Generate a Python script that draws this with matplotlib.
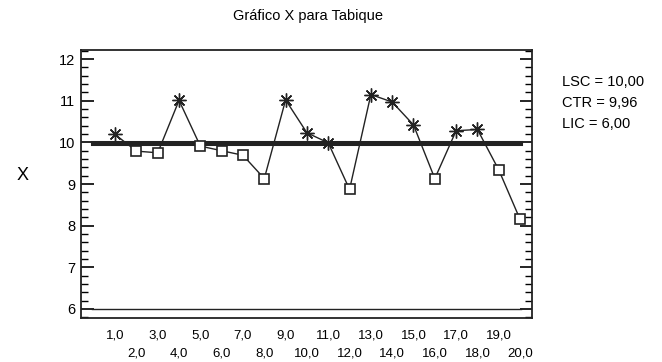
import matplotlib
matplotlib.use("Agg")
import matplotlib.pyplot as plt
from matplotlib.ticker import MultipleLocator

plt.rcParams["font.family"] = ["Liberation Sans", "DejaVu Sans"]

# subgroup number and mean
samples = list(range(1, 21))
means = [10.19, 9.79, 9.75, 11.01, 9.91, 9.80, 9.69, 9.13, 11.02, 10.23,
         9.99, 8.87, 11.15, 10.97, 10.42, 9.13, 10.28, 10.31, 9.34, 8.15]
lsc = 10.00
ctr = 9.96
lic = 6.00
limit_labels = ["LSC = 10,00", "CTR = 9,96", "LIC = 6,00"]

fig = plt.figure(figsize=(6.62, 3.62), dpi=100)
ax = fig.add_axes([81 / 662, 1 - 318 / 362, 451 / 662, 268 / 362])

# control limits
ax.plot([-0.1, 20.05], [lsc, lsc], color="#222222", lw=2.2)
ax.plot([-0.1, 20.05], [ctr, ctr], color="#222222", lw=2.2)
ax.plot([-0.1, 20.05], [lic, lic], color="#222222", lw=1.0)

ax.plot(samples, means, color="#222222", lw=1.0, zorder=3)
above = [(s, m) for s, m in zip(samples, means) if m > ctr]
below = [(s, m) for s, m in zip(samples, means) if m <= ctr]
ax.plot([p[0] for p in above], [p[1] for p in above], ls="none",
        marker=(8, 2, 0), ms=10, mew=1.0, color="#222222", zorder=4)
ax.plot([p[0] for p in below], [p[1] for p in below], ls="none",
        marker="s", ms=6.5, mew=1.2, mfc="white", mec="#222222", zorder=4)

ax.set_xlim(-0.6, 20.56)
ax.set_ylim(5.78, 12.22)
ax.yaxis.set_major_locator(MultipleLocator(1))
ax.yaxis.set_minor_locator(MultipleLocator(0.2))
ax.tick_params(axis="y", which="major", direction="in", length=9, width=1.2,
               left=True, right=True, labelsize=10.5, pad=4)
ax.tick_params(axis="y", which="minor", direction="in", length=5, width=1.0,
               left=True, right=True)
ax.tick_params(axis="x", which="both", length=0, labelbottom=False)
for sp in ax.spines.values():
    sp.set_linewidth(1.3)
    sp.set_color("#222222")

# two-row x labels: odd samples above, even below
for s in samples:
    lab = f"{s},0"
    yoff = -12.5 if s % 2 == 1 else -25.5
    ax.annotate(lab, xy=(s, ax.get_ylim()[0]), xycoords="data",
                xytext=(0, yoff), textcoords="offset points", ha="center",
                va="center", fontsize=9.5, annotation_clip=False)

ax.set_ylabel("X", fontsize=13, rotation=0, labelpad=0)
ax.yaxis.set_label_coords(-0.13, 0.5)

fig.text(308 / 662, 1 - 16 / 362, "Gráfico X para Tabique", ha="center",
         va="center", fontsize=10.5)
for i, lab in enumerate(limit_labels):
    fig.text(562 / 662, 1 - (82 + 21 * i) / 362, lab, ha="left",
             va="center", fontsize=10.5)

fig.savefig("out.png", dpi=100)
